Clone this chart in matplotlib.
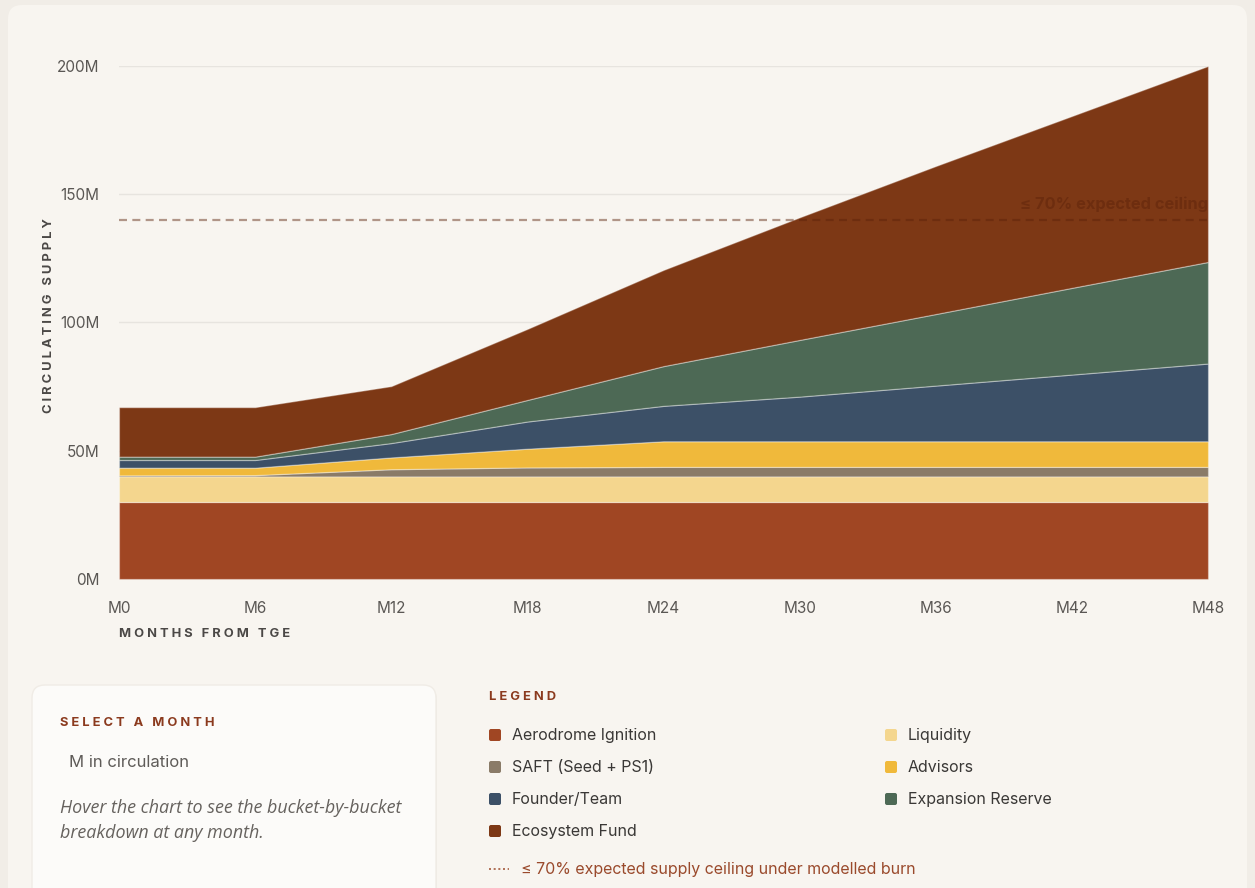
import matplotlib
matplotlib.use("Agg")
import matplotlib.pyplot as plt
from matplotlib.patches import FancyBboxPatch

# circulating supply per bucket, millions, at each six-month step
months = [0, 6, 12, 18, 24, 30, 36, 42, 48]
month_labels = ["M0", "M6", "M12", "M18", "M24", "M30", "M36", "M42", "M48"]
aerodrome = [30, 30, 30, 30, 30, 30, 30, 30, 30]
liquidity = [10, 10, 10, 10, 10, 10, 10, 10, 10]
saft = [0.4, 0.5, 2.8, 3.5, 3.7, 3.7, 3.7, 3.7, 3.7]
advisors = [3.0, 2.9, 4.6, 7.3, 10.0, 10.0, 10.0, 10.0, 10.0]
founder = [3.0, 3.0, 5.6, 10.6, 13.8, 17.4, 21.7, 26.0, 30.3]
expansion = [1.3, 1.3, 3.5, 8.4, 15.5, 22.1, 27.9, 33.8, 39.6]
ecosystem = [19.3, 19.3, 18.7, 27.7, 37.5, 47.8, 57.7, 67.0, 76.4]
ceiling = 140
y_ticks = [0, 50, 100, 150, 200]

series = [aerodrome, liquidity, saft, advisors, founder, expansion, ecosystem]
colors = ["#A04623", "#F4D68E", "#8A7B68", "#F0B93B", "#3C5067", "#4D6955", "#7D3815"]

legend_left = [("Aerodrome Ignition", "#A04623"), ("SAFT (Seed + PS1)", "#8A7B68"),
               ("Founder/Team", "#3C5067"), ("Ecosystem Fund", "#7D3815")]
legend_right = [("Liquidity", "#F4D68E"), ("Advisors", "#F0B93B"),
                ("Expansion Reserve", "#4D6955")]

FONT = ["Inter", "DejaVu Sans"]
plt.rcParams["font.family"] = FONT
RUST, TXT, MUTED = "#8B3A1E", "#3A3836", "#5E5B58"
BG = "#F8F5F0"

W, H = 1255, 888
fig = plt.figure(figsize=(W / 100, H / 100), dpi=100, facecolor="#F1EDE7")


def spaced(s):
    # tracked-out caps: a thin gap between letters
    return "\u2009\u200a".join(s)


# page layer in pixel coordinates
bg = fig.add_axes([0, 0, 1, 1], zorder=-1)
bg.set_xlim(0, W); bg.set_ylim(H, 0); bg.axis("off")
bg.add_patch(FancyBboxPatch((8, 5), W - 16, H + 40, boxstyle="round,pad=0,rounding_size=14",
                            facecolor=BG, edgecolor="none"))
bg.add_patch(FancyBboxPatch((33, 687), 404, 240, boxstyle="round,pad=0,rounding_size=13",
                            facecolor="#EFEBE5", edgecolor="none"))
bg.add_patch(FancyBboxPatch((32, 685), 404, 240, boxstyle="round,pad=0,rounding_size=13",
                            facecolor="#FCFBF9", edgecolor="#F0ECE6", lw=1))

bg.text(60, 723, spaced("SELECT A MONTH"), fontsize=9.3, color=RUST, weight="bold",
        va="center", ha="left")
bg.text(69, 762, "M in circulation", fontsize=12, color=MUTED, va="center", ha="left")
bg.text(60, 820, "Hover the chart to see the bucket-by-bucket\nbreakdown at any month.",
        fontsize=12.9, color="#66625E", style="italic", va="center", ha="left",
        family=["Open Sans", "DejaVu Sans"], linespacing=1.5)

bg.text(489, 697, spaced("LEGEND"), fontsize=9.3, color=RUST, weight="bold",
        va="center", ha="left")
for col, entries in [(489, legend_left), (885, legend_right)]:
    for i, (name, c) in enumerate(entries):
        yy = 735 + 32 * i
        bg.add_patch(FancyBboxPatch((col, yy - 6), 12, 12, boxstyle="round,pad=0,rounding_size=2",
                                    facecolor=c, edgecolor="none"))
        bg.text(col + 23, yy, name, fontsize=11.5, color=TXT, va="center", ha="left")
bg.plot([489, 509], [869, 869], color="#A55A3C", lw=1.2, ls=(0, (1.2, 1.6)))
bg.text(521, 869, "\u2264 70% expected supply ceiling under modelled burn", fontsize=11.5,
        color="#9A4A2C", va="center", ha="left")

bg.text(119, 634, spaced("MONTHS FROM TGE"), fontsize=9.3, color="#4B4846", weight="bold",
        va="center", ha="left")
bg.text(49, 316, spaced("CIRCULATING SUPPLY"), fontsize=9.3, color="#4B4846", weight="bold",
        va="center", ha="center", rotation=90)

# chart
L, R, T, B = 119, 1208, 66, 579
ax = fig.add_axes([L / W, 1 - B / H, (R - L) / W, (B - T) / H])
ax.set_facecolor("none")
ax.stackplot(months, *series, colors=colors, edgecolor=(1, 1, 1, 0.35), linewidth=0.9,
             zorder=2)
ax.set_xlim(0, 48)
ax.set_ylim(0, 200)
ax.set_yticks(y_ticks)
ax.set_yticklabels([f"{v}M" for v in y_ticks])
ax.set_xticks(months)
ax.set_xticklabels(month_labels)
for v in y_ticks[1:]:
    ax.axhline(v, color="#E7E4DF", lw=1.0, zorder=1)
ax.tick_params(length=0, labelsize=11, labelcolor="#5A5754")
ax.tick_params(axis="y", pad=14)
ax.tick_params(axis="x", pad=16)
for s in ax.spines.values():
    s.set_visible(False)

ax.axhline(ceiling, color="#5A2008", alpha=0.45, lw=1.6, ls=(0, (3.6, 2.4)), zorder=3)
ax.text(48, ceiling + 3.0, "\u2264 70% expected ceiling", ha="right", va="bottom",
        fontsize=11.8, weight="bold", color="#5A2008", alpha=0.45, zorder=3)

fig.savefig("out.png", dpi=100, facecolor=fig.get_facecolor())
